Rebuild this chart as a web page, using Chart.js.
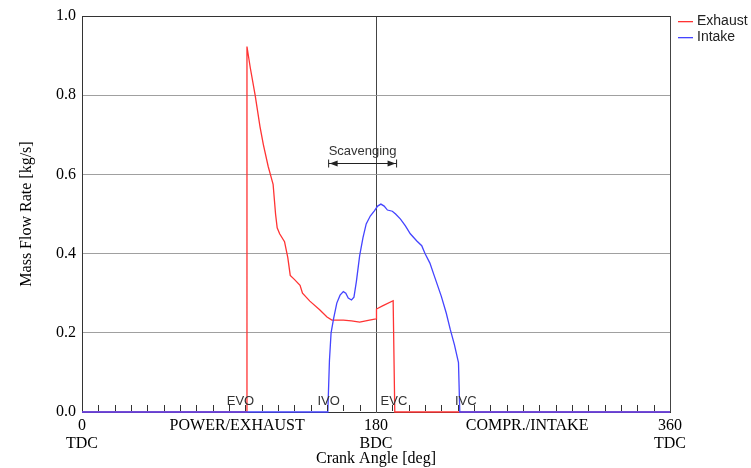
<!DOCTYPE html>
<html>
<head>
<meta charset="utf-8">
<script src="https://cdn.jsdelivr.net/npm/chart.js@4"></script>
<style>
  html, body { margin: 0; padding: 0; background: #fff; }
  #wrap { width: 751px; height: 468px; }
</style>
</head>
<body>
<div id="wrap"><canvas id="grafico"></canvas></div>
<script>
// crank angle [deg] / mass flow [kg/s]
const exhaustDeg = [0, 100.5, 101, 103, 106, 109, 111, 114, 116, 117, 118.5, 119.5, 121, 124, 126, 127.5, 130, 133.5, 135, 139.5, 145.5, 150, 153, 160, 165, 170, 176, 180, 180.3, 184, 190.5, 191.5, 360];
const exhaustFlow = [0, 0, 0.923, 0.87, 0.80, 0.72, 0.676, 0.62, 0.59, 0.575, 0.50, 0.465, 0.45, 0.43, 0.39, 0.345, 0.335, 0.32, 0.30, 0.28, 0.258, 0.24, 0.232, 0.232, 0.23, 0.227, 0.232, 0.235, 0.26, 0.268, 0.281, 0, 0];

const intakeDeg = [0, 150.5, 151.5, 152.5, 154, 156, 158, 160, 161.5, 163, 165, 166.5, 168, 170, 172, 174, 176.5, 179, 181, 183, 185, 187, 190, 192, 195, 198, 201, 205, 208, 210, 213, 216, 220, 223, 225.5, 228, 230.5, 231.3, 360];
const intakeFlow = [0, 0, 0.13, 0.2, 0.235, 0.275, 0.295, 0.304, 0.30, 0.288, 0.283, 0.29, 0.33, 0.395, 0.44, 0.475, 0.495, 0.508, 0.52, 0.525, 0.52, 0.51, 0.507, 0.50, 0.487, 0.47, 0.45, 0.432, 0.42, 0.40, 0.376, 0.34, 0.292, 0.25, 0.208, 0.17, 0.125, 0, 0];

const xTicks = [0, 180, 360];
const xTickNames = { 0: ['0', 'TDC'], 180: ['180', 'BDC'], 360: ['360', 'TDC'] };
const strokeLabels = ['POWER/EXHAUST', 'COMPR./INTAKE'];
const strokeLabelDeg = [95, 272.5];
const eventNames = ['EVO', 'IVO', 'EVC', 'IVC'];
const eventLabelDeg = [97, 151, 191, 235];
const scavenging = { from: 151, to: 192.6, level: 0.63, text: 'Scavenging' };

const VERMELHO = '#ff3333';
const AZUL = '#4444ff';
const cores = [VERMELHO, AZUL];
const SERIF = '"Liberation Serif", "Times New Roman", serif';
const SANS = '"Liberation Sans", Arial, sans-serif';

const pontos = (xs, ys) => xs.map((x, i) => ({ x, y: ys[i] }));

// labels, tick marks, annotation and legend drawn on top of the chart
const extras = {
  id: 'extras',
  afterDatasetsDraw(chart) {
    const { ctx, chartArea: a, scales: { x, y } } = chart;
    ctx.save();

    // small inner ticks every 10 deg
    ctx.strokeStyle = '#333';
    ctx.lineWidth = 1;
    ctx.beginPath();
    for (let d = 10; d < 360; d += 10) {
      if (d === 180) continue;
      const px = Math.round(x.getPixelForValue(d)) + 0.5;
      ctx.moveTo(px, a.bottom - 1);
      ctx.lineTo(px, a.bottom - 7);
    }
    ctx.stroke();

    // EVO / IVO / EVC / IVC
    ctx.fillStyle = '#333';
    ctx.font = '13px ' + SANS;
    ctx.textAlign = 'center';
    ctx.textBaseline = 'middle';
    eventNames.forEach((n, i) => ctx.fillText(n, x.getPixelForValue(eventLabelDeg[i]), a.bottom - 11));

    // scavenging arrow
    const x1 = x.getPixelForValue(scavenging.from);
    const x2 = x.getPixelForValue(scavenging.to);
    const ya = Math.round(y.getPixelForValue(scavenging.level)) + 0.5;
    ctx.fillText(scavenging.text, (x1 + x2) / 2, ya - 12);
    ctx.strokeStyle = '#222';
    ctx.fillStyle = '#222';
    ctx.beginPath();
    ctx.moveTo(x1, ya); ctx.lineTo(x2, ya);
    ctx.moveTo(x1, ya - 4); ctx.lineTo(x1, ya + 4);
    ctx.moveTo(x2, ya - 4); ctx.lineTo(x2, ya + 4);
    ctx.stroke();
    ctx.beginPath();
    ctx.moveTo(x1 + 1, ya); ctx.lineTo(x1 + 9, ya - 3); ctx.lineTo(x1 + 9, ya + 3); ctx.closePath();
    ctx.moveTo(x2 - 1, ya); ctx.lineTo(x2 - 9, ya - 3); ctx.lineTo(x2 - 9, ya + 3); ctx.closePath();
    ctx.fill();

    // stroke names under the axis
    ctx.fillStyle = '#000';
    ctx.font = '16px ' + SERIF;
    ctx.textBaseline = 'top';
    strokeLabels.forEach((t, i) => ctx.fillText(t, x.getPixelForValue(strokeLabelDeg[i]), a.bottom + 6));

    // legend
    ctx.font = '14px ' + SANS;
    ctx.textAlign = 'left';
    ctx.textBaseline = 'middle';
    chart.data.datasets.forEach((ds, i) => {
      const ly = 21 + i * 16;
      ctx.fillStyle = cores[i];
      ctx.fillRect(678, ly, 15, 1.3);
      ctx.fillStyle = '#222';
      ctx.fillText(ds.label, 697, ly + 0.5);
    });
    ctx.restore();
  }
};

new Chart(document.getElementById('grafico'), {
  type: 'line',
  data: {
    datasets: [
      { label: 'Exhaust', data: pontos(exhaustDeg, exhaustFlow), borderColor: VERMELHO, borderWidth: 1.3, pointRadius: 0, order: 1, clip: 3 },
      { label: 'Intake', data: pontos(intakeDeg, intakeFlow), borderColor: AZUL, borderWidth: 1.3, pointRadius: 0, order: 0, clip: 3 }
    ]
  },
  options: {
    responsive: true,
    maintainAspectRatio: false,
    animation: false,
    layout: { padding: { top: 16, right: 81, left: 0, bottom: 0 } },
    plugins: { legend: { display: false }, tooltip: { enabled: false } },
    scales: {
      x: {
        type: 'linear', min: 0, max: 360,
        afterBuildTicks: s => { s.ticks = xTicks.map(v => ({ value: v })); },
        afterFit: s => { s.height = 56; },
        ticks: {
          autoSkip: false, maxRotation: 0, padding: 5, color: '#000',
          font: { family: SERIF, size: 16, lineHeight: 1.12 },
          callback: v => xTickNames[v] || ''
        },
        grid: {
          drawTicks: false,
          lineWidth: 1,
          color: c => (c.tick && (c.tick.value === 180 || c.tick.value === 360)) ? '#444' : 'rgba(0,0,0,0)'
        },
        border: { display: true, color: '#333' },
        title: { display: true, text: 'Crank Angle [deg]', color: '#000', font: { family: SERIF, size: 16 }, padding: { top: 0, bottom: 0 } }
      },
      y: {
        min: 0, max: 1,
        afterFit: s => { s.width = 82; },
        ticks: {
          stepSize: 0.2, padding: 6, color: '#000',
          font: { family: SERIF, size: 16 },
          callback: v => v.toFixed(1)
        },
        grid: {
          drawTicks: false,
          color: c => c.tick.value >= 0.99 ? '#333' : (c.tick.value <= 0.01 ? 'rgba(0,0,0,0)' : '#a0a0a0')
        },
        border: { display: true, color: '#333' },
        title: { display: true, text: 'Mass Flow Rate [kg/s]', color: '#000', font: { family: SERIF, size: 16 }, padding: { top: 17, bottom: 0 } }
      }
    }
  },
  plugins: [extras]
});
</script>
</body>
</html>
